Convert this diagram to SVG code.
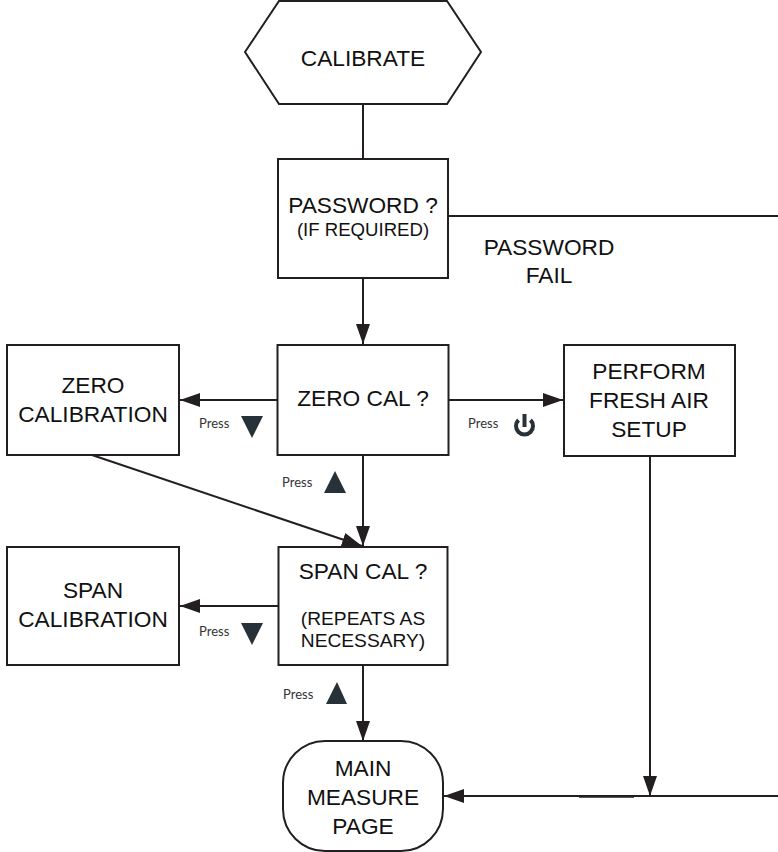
<svg xmlns="http://www.w3.org/2000/svg" width="778" height="852" viewBox="0 0 778 852">
<style>
.b{fill:#fff;stroke:#231f20;stroke-width:2}
.l{fill:none;stroke:#231f20;stroke-width:2}
.t{font-family:"Liberation Sans",Arial,sans-serif;font-size:22.7px;fill:#111;text-anchor:middle}
.s{font-size:18.6px}
.r{font-size:19.2px}
.p{font-family:Lato,"Noto Sans",sans-serif;font-size:13px;fill:#333}
.k{fill:#263238}
</style>
<defs>
<marker id="a" markerUnits="userSpaceOnUse" markerWidth="20" markerHeight="14" refX="20" refY="7" orient="auto"><path d="M0 0L20 7L0 14Z" fill="#231f20"/></marker>
</defs>
<rect width="778" height="852" fill="#fff"/>
<g id="connectors">
<path class="l" d="M363 104V159"/>
<path class="l" d="M446 216H778"/>
<path class="l" d="M363 278V344" marker-end="url(#a)"/>
<path class="l" d="M277 400H180" marker-end="url(#a)"/>
<path class="l" d="M448 400H563" marker-end="url(#a)"/>
<path class="l" d="M363 455V546" marker-end="url(#a)"/>
<path class="l" d="M92 455L362 546" marker-end="url(#a)"/>
<path class="l" d="M278 606H180" marker-end="url(#a)"/>
<path class="l" d="M363 665V741" marker-end="url(#a)"/>
<path class="l" d="M650 456V796" marker-end="url(#a)"/>
<path class="l" d="M778 796H444" marker-end="url(#a)"/>
<path d="M579 796.500H634" stroke="#231f20" stroke-width="2.500" fill="none"/>
</g>
<g id="calibrate"><path class="b" d="M279 1H447L481 52L447 104H279L245 52Z"/><text class="t" x="363" y="66">CALIBRATE</text></g>
<g id="password"><rect class="b" x="278" y="159" width="170" height="119"/><text class="t" x="363" y="213">PASSWORD ?</text><text class="t s" x="363" y="236">(IF REQUIRED)</text></g>
<g id="password-fail"><text class="t" x="549" y="255">PASSWORD</text><text class="t" x="549" y="283">FAIL</text></g>
<g id="zero-cal"><rect class="b" x="277.500" y="345" width="171" height="110"/><text class="t" x="363" y="406">ZERO CAL ?</text></g>
<g id="zero-calibration"><rect class="b" x="7" y="345" width="172" height="110"/><text class="t" x="93" y="393">ZERO</text><text class="t" x="93" y="422">CALIBRATION</text></g>
<g id="fresh-air"><rect class="b" x="564" y="345" width="171" height="111"/><text class="t" x="649" y="379">PERFORM</text><text class="t" x="649" y="408">FRESH AIR</text><text class="t" x="649" y="437">SETUP</text></g>
<g id="span-cal"><rect class="b" x="278.500" y="547" width="169" height="118"/><text class="t" x="363" y="579">SPAN CAL ?</text><text class="t r" x="363" y="625">(REPEATS AS</text><text class="t r" x="363" y="647">NECESSARY)</text></g>
<g id="span-calibration"><rect class="b" x="7" y="547" width="172" height="118"/><text class="t" x="93" y="598">SPAN</text><text class="t" x="93" y="627">CALIBRATION</text></g>
<g id="main-measure"><rect class="b" x="283" y="741" width="160" height="110" rx="42"/><text class="t" x="363" y="776">MAIN</text><text class="t" x="363" y="805">MEASURE</text><text class="t" x="363" y="834">PAGE</text></g>
<g id="press-labels">
<text class="p" x="199" y="428">Press</text><path class="k" d="M241 416H263L252 438Z"/>
<text class="p" x="468" y="428">Press</text>
<g fill="none" stroke="#263238" stroke-width="4" stroke-linecap="butt"><path d="M524.500 414V427"/><path d="M518.500 420A8.500 8.500 0 1 0 530.500 420"/></g>
<text class="p" x="282" y="487">Press</text><path class="k" d="M324 493H346L335 471Z"/>
<text class="p" x="199" y="636">Press</text><path class="k" d="M241 623H263L252 645Z"/>
<text class="p" x="283" y="699">Press</text><path class="k" d="M326 704H347L337 682Z"/>
</g>
</svg>
